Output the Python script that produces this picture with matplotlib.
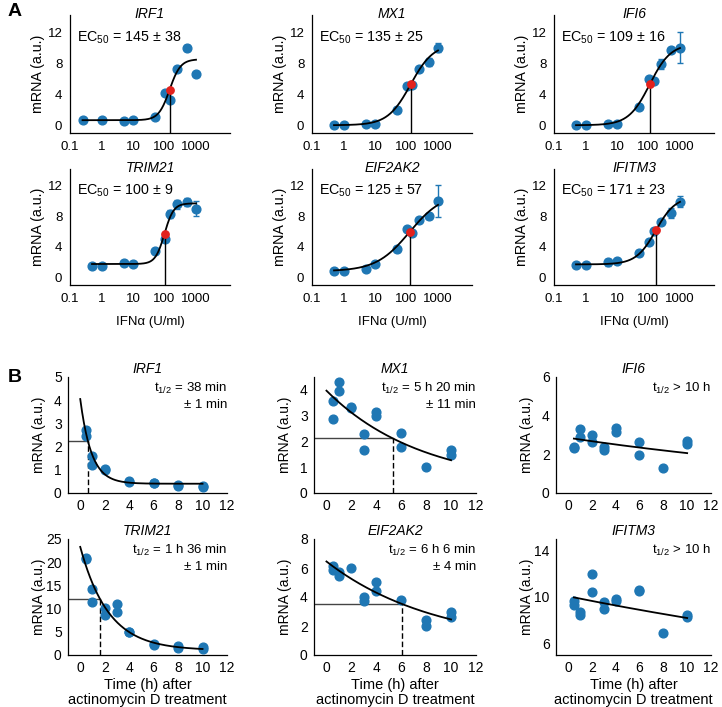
import numpy as np
import matplotlib.pyplot as plt

plt.rcParams['font.family'] = ['Liberation Sans', 'DejaVu Sans']
plt.rcParams['mathtext.fontset'] = 'custom'
plt.rcParams['mathtext.rm'] = 'Liberation Sans'
plt.rcParams['mathtext.it'] = 'Liberation Sans:italic'
plt.rcParams['font.size'] = 9

BLUE = '#1f77b4'
RED = '#e3211c'
W, H = 722, 707

# ---- panel A: dose response (IFNa U/ml) ----
genes_a = ['IRF1', 'MX1', 'IFI6', 'TRIM21', 'EIF2AK2', 'IFITM3']
doses = [0.5, 1, 5, 10, 50, 100, 150, 250, 500, 1000]
irf1_doses = [0.25, 1, 5, 10, 50, 100, 150, 250, 500, 1000]

irf1_a = [0.73, 0.7, 0.56, 0.7, 1.04, 4.14, 3.2, 7.2, 9.97, 6.6]
mx1_a = [0.04, 0.04, 0.1, 0.2, 2.0, 5.0, 5.2, 7.3, 8.1, 10.0]
ifi6_a = [0.0, 0.0, 0.1, 0.15, 2.4, 5.9, 5.7, 7.9, 9.7, 10.0]
trim21_a = [1.5, 1.55, 1.9, 1.72, 3.4, 5.0, 8.3, 9.55, 9.85, 9.0]
eif2ak2_a = [0.9, 0.9, 1.08, 1.73, 3.7, 6.37, 5.85, 7.5, 8.0, 10.0]
ifitm3_a = [1.65, 1.65, 1.95, 2.1, 3.25, 4.64, 6.07, 7.3, 8.45, 9.9]

irf1_err = [0, 0, 0, 0, 0, 0, 0, 0, 0.35, 0]
mx1_err = [0, 0, 0, 0, 0.3, 0, 0, 0.2, 0.5, 0.6]
ifi6_err = [0, 0, 0, 0, 0.2, 0, 0.3, 0.6, 0.3, 2.0]
trim21_err = [0, 0, 0, 0, 0.3, 0, 0.5, 0.6, 0.5, 1.0]
eif2ak2_err = [0, 0, 0, 0, 0.4, 0, 0, 0.2, 0.3, 2.1]
ifitm3_err = [0, 0, 0.4, 0, 0.4, 0, 0, 0.3, 0.7, 0.7]

ec50 = [145, 135, 109, 100, 125, 171]
ec50_sd = [38, 25, 16, 9, 57, 23]
hill_bottom = [0.65, 0.0, 0.0, 1.75, 0.8, 1.7]
hill_top = [8.5, 10.5, 10.5, 9.7, 11.08, 10.6]
hill_n = [2.5, 1.2, 1.3, 3.0, 0.82, 1.39]

# ---- panel B: decay after actinomycin D ----
genes_b = ['IRF1', 'MX1', 'IFI6', 'TRIM21', 'EIF2AK2', 'IFITM3']
irf1_t = [0.5, 0.5, 1, 1, 2, 2, 4, 4, 6, 6, 8, 8, 10, 10]
irf1_b = [2.72, 2.45, 1.58, 1.2, 1.02, 0.98, 0.51, 0.48, 0.45, 0.43, 0.33, 0.32, 0.3, 0.28]
mx1_t = [0.5, 0.5, 1, 1, 2, 2, 3, 3, 4, 4, 6, 6, 8, 10, 10]
mx1_b = [3.58, 2.88, 4.31, 3.95, 3.35, 3.31, 2.29, 1.68, 3.16, 2.99, 2.32, 1.79, 1.0, 1.66, 1.49]
ifi6_t = [0.5, 0.5, 1, 1, 2, 2, 3, 3, 4, 4, 6, 6, 8, 10, 10]
ifi6_b = [2.4, 2.35, 3.33, 2.9, 3.0, 2.62, 2.38, 2.2, 3.34, 3.17, 2.64, 1.94, 1.29, 2.69, 2.52]
trim21_t = [0.5, 0.5, 1, 1, 2, 2, 3, 3, 4, 4, 6, 6, 8, 8, 10, 10]
trim21_b = [21.0, 20.6, 14.2, 11.35, 10.1, 8.6, 10.9, 9.2, 4.96, 4.9, 2.37, 2.15, 2.0, 1.44, 1.65, 1.3]
eif2ak2_t = [0.5, 0.5, 1, 1, 2, 3, 3, 4, 4, 6, 8, 8, 10, 10]
eif2ak2_b = [6.16, 5.89, 5.7, 5.47, 6.0, 3.98, 3.75, 5.01, 4.44, 3.79, 2.41, 2.02, 2.94, 2.64]
ifitm3_t = [0.5, 0.5, 1, 1, 2, 2, 3, 3, 4, 4, 6, 6, 8, 10, 10]
ifitm3_b = [9.68, 9.34, 8.73, 8.47, 11.96, 10.43, 9.54, 8.96, 9.83, 9.68, 10.6, 10.55, 6.86, 8.45, 8.24]

# exponential fits: y = amp * 2^(-t / half) + offset
decay_half = [0.633, 5.333, 21.2, 1.6, 6.1, 33.5]
decay_amp = [3.65, 3.71, 2.86, 22.3, 5.89, 10.07]
decay_off = [0.4, 0.26, 0.0, 1.0, 0.56, 0.0]
decay_start = [0, 0, 0.5, 0, 0, 0.5]
show_half = [True, True, False, True, True, False]
half_text = [('t$_{1/2}$ = 38 min', '± 1 min'), ('t$_{1/2}$ = 5 h 20 min', '± 11 min'),
             ('t$_{1/2}$ > 10 h', None), ('t$_{1/2}$ = 1 h 36 min', '± 1 min'),
             ('t$_{1/2}$ = 6 h 6 min', '± 4 min'), ('t$_{1/2}$ > 10 h', None)]
b_ylim = [(0, 5), (0, 4.5), (0, 6), (0, 25), (0, 8), (5, 15)]
b_yticks = [[0, 1, 2, 3, 4, 5], [0, 1, 2, 3, 4], [0, 2, 4, 6],
            [0, 5, 10, 15, 20, 25], [0, 2, 4, 6, 8], [6, 10, 14]]

fig = plt.figure(figsize=(W / 100, H / 100), dpi=100)


def px_axes(l, t, r, b):
    return fig.add_axes([l / W, 1 - b / H, (r - l) / W, (b - t) / H])


def style(ax, size, pad):
    for s in ['top', 'right']:
        ax.spines[s].set_visible(False)
    for s in ['left', 'bottom']:
        ax.spines[s].set_linewidth(0.9)
    ax.tick_params(length=0, pad=pad, labelsize=size)


a_cols = [(70, 230), (312, 472), (554, 714)]
a_rows = [(15, 133), (169, 285)]
a_data = [irf1_a, mx1_a, ifi6_a, trim21_a, eif2ak2_a, ifitm3_a]
a_err = [irf1_err, mx1_err, ifi6_err, trim21_err, eif2ak2_err, ifitm3_err]
a_doses = [irf1_doses, doses, doses, doses, doses, doses]

for i, gene in enumerate(genes_a):
    (l, r), (t, b) = a_cols[i % 3], a_rows[i // 3]
    ax = px_axes(l, t, r, b)
    style(ax, 9.5, 5.5)
    ax.set_xscale('log')
    ax.set_xlim(0.11, 12000)
    ax.set_ylim(-1, 14.2)
    ax.set_xticks([0.1, 1, 10, 100, 1000])
    ax.set_xticklabels(['0.1', '1', '10', '100', '1000'])
    ax.minorticks_off()
    ax.set_yticks([0, 4, 8, 12])
    x = a_doses[i]
    xs = np.logspace(np.log10(x[0]), 3, 300)
    bt, tp, n, ec = hill_bottom[i], hill_top[i], hill_n[i], ec50[i]
    ys = bt + (tp - bt) * xs ** n / (xs ** n + ec ** n)
    ax.errorbar(x, a_data[i], yerr=a_err[i], fmt='o', color=BLUE, ms=6.3,
                capsize=2, elinewidth=1, capthick=1, zorder=3)
    ax.plot(xs, ys, color='black', lw=1.3, zorder=4)
    yec = (bt + tp) / 2
    ax.plot([ec, ec], [-1, yec], color='black', lw=1, zorder=4)
    ax.plot([ec], [yec], 'o', color=RED, ms=5.3, zorder=5)
    ax.text(0.5, 1 + 1.0 / (b - t), gene, transform=ax.transAxes, ha='center',
            va='center', style='italic', fontsize=10)
    ax.text(0.045, 0.81, 'EC$_{50}$ = %d ± %d' % (ec, ec50_sd[i]),
            transform=ax.transAxes, ha='left', va='center', fontsize=10.3)
    ax.set_ylabel('mRNA (a.u.)', fontsize=10.3)
    ax.yaxis.set_label_coords(-25.0 / (r - l), 0.5)
    if i >= 3:
        ax.set_xlabel('IFNα (U/ml)', fontsize=9.5, labelpad=8)

b_cols = [(68, 227), (314, 476), (556, 711)]
b_rows = [(377, 493), (539, 655)]
b_t = [irf1_t, mx1_t, ifi6_t, trim21_t, eif2ak2_t, ifitm3_t]
b_data = [irf1_b, mx1_b, ifi6_b, trim21_b, eif2ak2_b, ifitm3_b]

for i, gene in enumerate(genes_b):
    (l, r), (t, b) = b_cols[i % 3], b_rows[i // 3]
    ax = px_axes(l, t, r, b)
    style(ax, 10, 4.5)
    ax.set_xlim(-1, 12)
    ax.set_ylim(*b_ylim[i])
    ax.set_xticks([0, 2, 4, 6, 8, 10, 12])
    ax.set_yticks(b_yticks[i])
    ax.plot(b_t[i], b_data[i], 'o', color=BLUE, ms=6.3, zorder=3)
    ts = np.linspace(decay_start[i], 10, 200)
    ys = decay_amp[i] * 2 ** (-ts / decay_half[i]) + decay_off[i]
    ax.plot(ts, ys, color='black', lw=1.3, zorder=4)
    if show_half[i]:
        th = decay_half[i]
        yh = decay_amp[i] / 2 + decay_off[i]
        ax.plot([-1, th], [yh, yh], color='#444444', lw=1, zorder=2)
        ax.plot([th, th], [b_ylim[i][0], yh], color='black', lw=1,
                ls=(0, (4, 2)), zorder=2)
    line1, line2 = half_text[i]
    ax.text(1.0, 0.905, line1, transform=ax.transAxes, ha='right', va='center', fontsize=9.5)
    if line2:
        ax.text(1.0, 0.76, line2, transform=ax.transAxes, ha='right', va='center', fontsize=9.5)
    ax.text(0.5, 1 + 8.0 / (b - t), gene, transform=ax.transAxes, ha='center',
            va='center', style='italic', fontsize=10)
    ax.set_ylabel('mRNA (a.u.)', fontsize=10)
    ax.yaxis.set_label_coords(-22.0 / (r - l), 0.5)
    if i >= 3:
        ax.set_xlabel('Time (h) after\nactinomycin D treatment', fontsize=10.5,
                      labelpad=2, linespacing=1.1)

fig.text(8 / W, 1 - 12 / H, 'A', fontsize=14, fontweight='bold', va='center', ha='left')
fig.text(8 / W, 1 - 378 / H, 'B', fontsize=14, fontweight='bold', va='center', ha='left')

fig.savefig('out.png', dpi=100)
